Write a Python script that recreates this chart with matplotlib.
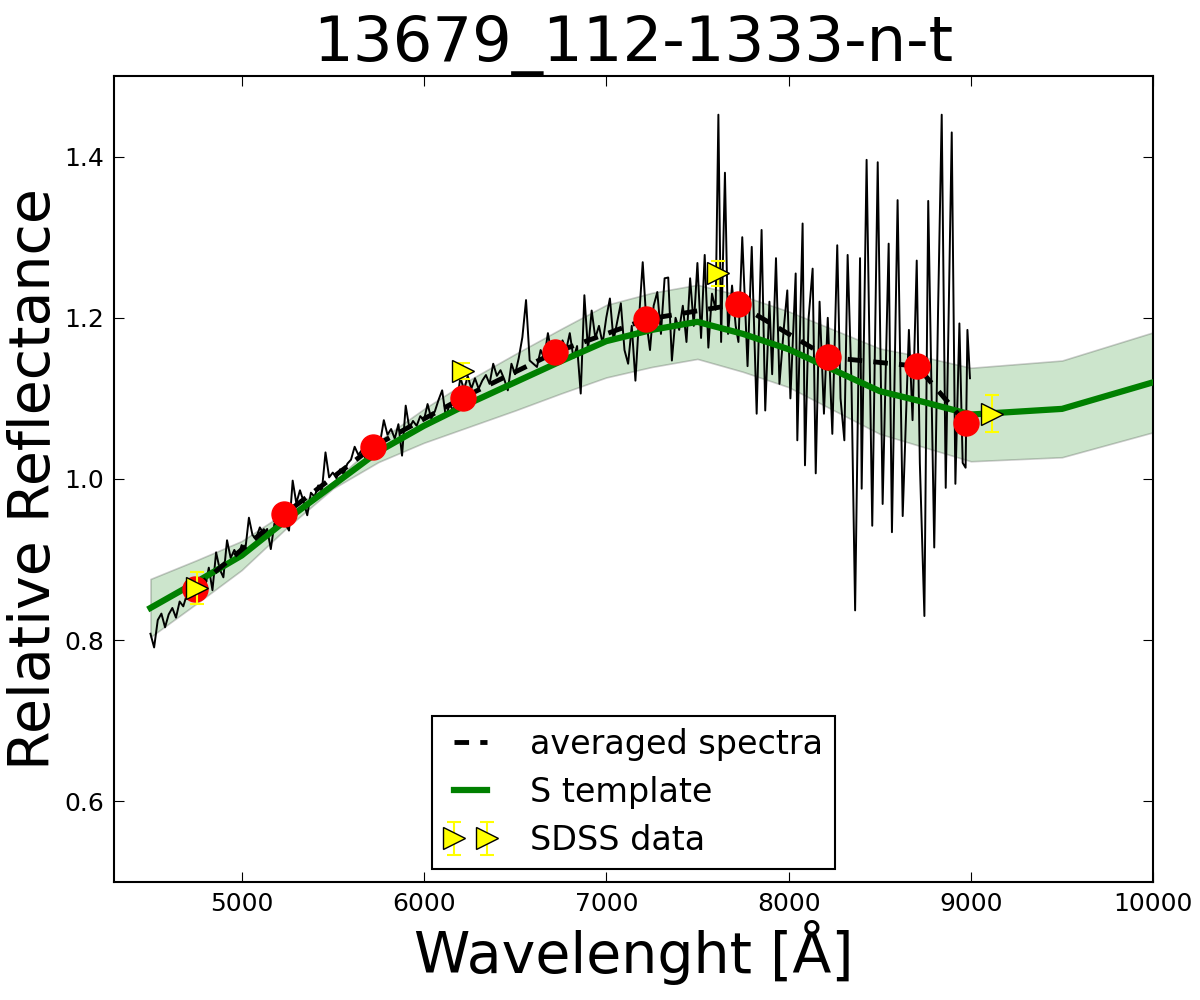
import numpy as np
import matplotlib

matplotlib.use("Agg")
import matplotlib.pyplot as plt  # noqa: E402

# ---- data ------------------------------------------------------------------
title = "13679_112-1333-n-t"

# S-type template
template_wave = [4500, 4750, 5000, 5250, 5500, 5750, 6000, 6250, 6500, 6750, 7000,
                 7250, 7500, 7750, 8000, 8250, 8500, 8750, 9000, 9500, 10000]
template_flux = [0.840, 0.872, 0.905, 0.950, 0.992, 1.034, 1.066, 1.094, 1.120,
                 1.146, 1.171, 1.185, 1.195, 1.180, 1.161, 1.135, 1.109, 1.095,
                 1.080, 1.087, 1.120]
template_err = [0.036, 0.027, 0.018, 0.010, 0.004, 0.013, 0.021, 0.029, 0.035,
                0.040, 0.045, 0.046, 0.046, 0.047, 0.047, 0.050, 0.053, 0.056,
                0.058, 0.060, 0.062]

# spectrum, blue part on a regular 20 A grid starting at 4500 A
spec_start, spec_step = 4500, 20
spec_flux_blue = [
    0.808, 0.791, 0.825, 0.833, 0.816, 0.832, 0.840, 0.828, 0.848, 0.842,
    0.857, 0.850, 0.866, 0.858, 0.872, 0.866, 0.890, 0.862, 0.909, 0.888,
    0.878, 0.924, 0.902, 0.912, 0.903, 0.918, 0.912, 0.952, 0.930, 0.927,
    0.940, 0.932, 0.938, 0.913, 0.945, 0.940, 0.952, 0.944, 0.936, 0.998,
    0.970, 0.986, 0.972, 0.955, 0.983, 0.978, 0.992, 0.985, 1.033, 1.002,
    1.008, 1.001, 1.012, 1.006, 1.019, 1.024, 1.040, 1.030, 1.036, 1.025,
    1.038, 1.045, 1.052, 1.046, 1.073, 1.055, 1.062, 1.050, 1.068, 1.029,
    1.091, 1.063, 1.072, 1.066, 1.078, 1.073, 1.093, 1.075, 1.084, 1.098,
    1.110, 1.077, 1.092, 1.086, 1.095, 1.126, 1.110, 1.128, 1.112, 1.125,
    1.112, 1.122, 1.129, 1.118, 1.143, 1.128, 1.135, 1.124, 1.110, 1.143,
    1.130, 1.150, 1.176, 1.222, 1.147, 1.143, 1.139, 1.160, 1.150, 1.181,
    1.155, 1.165, 1.145, 1.172, 1.160, 1.181, 1.150, 1.165, 1.106, 1.228,
    1.160, 1.209, 1.175, 1.190, 1.168, 1.200, 1.224, 1.172, 1.195, 1.218,
    1.160, 1.143, 1.190, 1.122, 1.200, 1.269, 1.195, 1.160, 1.215, 1.232,
    1.180, 1.249, 1.250, 1.147, 1.200, 1.185, 1.215, 1.170, 1.249, 1.190,
    1.268, 1.175, 1.278, 1.163, 1.230,
]

# red, noisy part of the spectrum
spec_wave_red = [
    7600, 7615, 7630, 7651, 7668, 7690, 7710, 7725, 7746, 7775,
    7798, 7825, 7852, 7872, 7895, 7910, 7931, 7950, 7975, 7993,
    8010, 8039, 8048, 8077, 8090, 8110, 8132, 8149, 8170, 8194,
    8215, 8240, 8267, 8285, 8306, 8324, 8345, 8365, 8392, 8401,
    8428, 8459, 8489, 8516, 8549, 8567, 8598, 8626, 8660, 8680,
    8703, 8720, 8745, 8766, 8799, 8820, 8840, 8862, 8895, 8915,
    8937, 8955, 8971, 8981, 8995,
]
spec_flux_red = [
    1.210, 1.452, 1.170, 1.380, 1.180, 1.240, 1.190, 1.170, 1.300, 1.140,
    1.288, 1.081, 1.309, 1.085, 1.220, 1.130, 1.274, 1.118, 1.190, 1.234,
    1.100, 1.255, 1.048, 1.317, 1.017, 1.200, 1.261, 1.007, 1.220, 1.081,
    1.200, 1.056, 1.290, 1.100, 1.048, 1.278, 1.120, 0.837, 1.274, 0.988,
    1.396, 0.942, 1.393, 0.969, 1.292, 0.934, 1.346, 0.954, 1.185, 1.073,
    1.271, 1.020, 0.830, 1.345, 0.915, 1.209, 1.452, 0.989, 1.430, 0.994,
    1.193, 1.020, 1.014, 1.185, 1.125,
]

# averaged spectrum (red dots, joined by the dashed line)
avg_wave = [4744, 5232, 5721, 6214, 6719, 7218, 7723, 8217, 8705, 8974]
avg_flux = [0.864, 0.956, 1.040, 1.101, 1.157, 1.198, 1.217, 1.151, 1.140, 1.069]

# SDSS photometry
sdss_wave = [4755, 6214, 7613, 9116]
sdss_flux = [0.865, 1.134, 1.255, 1.081]
sdss_err = [0.020, 0.010, 0.015, 0.023]

# ---- plot -------------------------------------------------------------------
plt.rcParams.update({
    "xtick.direction": "in",
    "ytick.direction": "in",
    "xtick.top": True,
    "ytick.right": True,
    "xtick.major.size": 7,
    "ytick.major.size": 7,
    "xtick.major.pad": 7,
    "ytick.major.pad": 7,
    "xtick.labelsize": 18,
    "ytick.labelsize": 18,
})

spec_wave_blue = spec_start + spec_step * np.arange(len(spec_flux_blue))
spec_wave = np.concatenate([spec_wave_blue, spec_wave_red])
spec_flux = np.concatenate([spec_flux_blue, spec_flux_red])

t_wave = np.asarray(template_wave, dtype=float)
t_flux = np.asarray(template_flux)
t_err = np.asarray(template_err)

fig = plt.figure(figsize=(12, 10), dpi=100, facecolor="white")
ax = fig.add_axes([0.095, 0.118, 0.866, 0.806])

ax.fill_between(t_wave, t_flux - t_err, t_flux + t_err, facecolor="green",
                edgecolor="black", alpha=0.2, linewidth=1.2, zorder=1)
ax.plot(spec_wave, spec_flux, color="black", linewidth=1.4, zorder=2)
ax.plot(t_wave, t_flux, color="green", linewidth=4.5, label="S template", zorder=3)
ax.plot(avg_wave, avg_flux, color="black", linewidth=3.5, linestyle=(0, (3.0, 2.3)),
        label="averaged spectra", zorder=4)
ax.plot(avg_wave, avg_flux, "o", color="red", markeredgecolor="red",
        markersize=18, zorder=5)
ax.errorbar(sdss_wave, sdss_flux, yerr=sdss_err, fmt=">", color="yellow",
            markerfacecolor="yellow", markeredgecolor="black", markersize=16,
            ecolor="yellow", elinewidth=1.5, capsize=5, capthick=1.5,
            label="SDSS data", zorder=6)

ax.set_xlim(4300, 10000)
ax.set_ylim(0.5, 1.5)
ax.set_xticks(np.arange(5000, 10001, 1000))
ax.set_yticks([0.6, 0.8, 1.0, 1.2, 1.4])
for sp in ax.spines.values():
    sp.set_linewidth(1.5)

ax.set_title(title, fontsize=45, pad=8)
ax.set_xlabel("Wavelenght [Å]", fontsize=41, labelpad=3)
ax.set_ylabel("Relative Reflectance", fontsize=41, labelpad=2)

handles, labels = ax.get_legend_handles_labels()
order = [labels.index(k) for k in ("averaged spectra", "S template", "SDSS data")]
leg = ax.legend([handles[i] for i in order], [labels[i] for i in order],
                loc="lower center", bbox_to_anchor=(0.5, 0.0), fontsize=24,
                numpoints=2, fancybox=False, framealpha=1, edgecolor="black",
                handlelength=1.6, handletextpad=1.0, borderpad=0.35,
                labelspacing=0.45, borderaxespad=0.4)
leg.get_frame().set_linewidth(1.5)

fig.savefig("out.png", dpi=100, facecolor="white")
